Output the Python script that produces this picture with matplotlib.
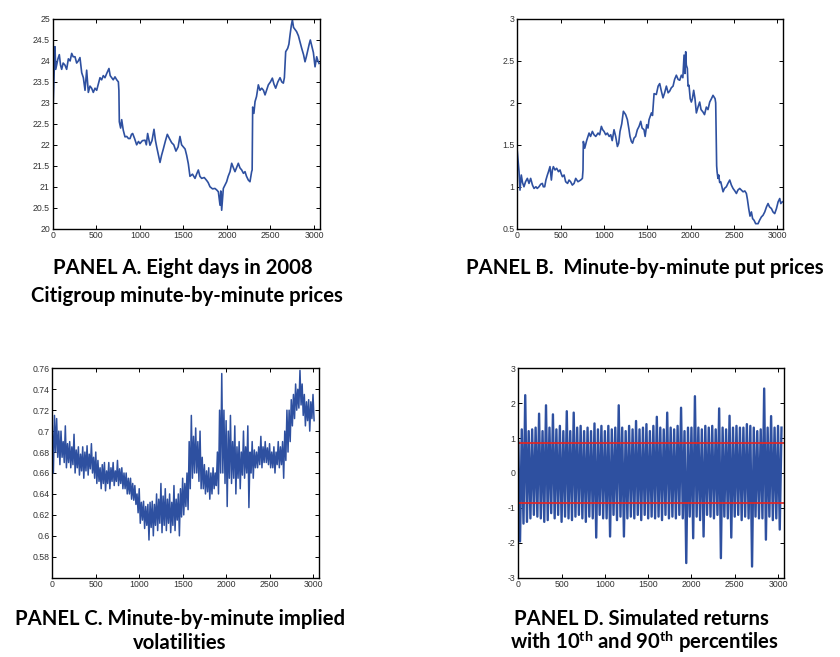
import numpy as np
import matplotlib
matplotlib.use("Agg")
import matplotlib.pyplot as plt

# ---------------- data ----------------
a_minute = [0, 5, 15, 26, 35, 45, 60, 76, 90, 103, 120, 141, 160, 180, 200, 218, 235, 256, 275, 294,
            313, 333, 352, 371, 390, 409, 428, 447, 466, 486, 505, 524, 543, 562, 581, 600, 620, 646, 660, 677,
            695, 715, 735, 754, 760, 765, 780, 792, 810, 830, 850, 870, 888, 905, 918, 940, 964, 985, 1002, 1030,
            1060, 1075, 1090, 1117, 1140, 1163, 1180, 1194, 1215, 1232, 1250, 1270, 1295, 1316, 1340, 1366, 1390, 1415, 1440, 1461,
            1480, 1500, 1520, 1538, 1557, 1576, 1605, 1634, 1652, 1672, 1690, 1710, 1740, 1768, 1785, 1806, 1835, 1863, 1885, 1902,
            1921, 1930, 1940, 1959, 1980, 1997, 2015, 2036, 2055, 2075, 2093, 2110, 2131, 2150, 2170, 2190, 2208, 2225, 2246, 2265,
            2284, 2290, 2296, 2310, 2323, 2340, 2361, 2380, 2400, 2420, 2438, 2455, 2476, 2500, 2522, 2540, 2560, 2585, 2610, 2630,
            2648, 2660, 2675, 2698, 2712, 2725, 2740, 2752, 2765, 2782, 2800, 2821, 2840, 2859, 2880, 2897, 2912, 2928, 2945, 2958,
            2975, 2993, 3012, 3031, 3045, 3058]
a_price = [23.3, 22.95, 23.6, 24.34, 23.8, 23.9, 24.05, 24.15, 23.9, 23.8, 23.95, 23.9, 23.8, 24.05, 24.0, 24.18, 24.1, 24.1, 23.95, 24.0,
           24.08, 23.72, 23.6, 23.3, 23.78, 23.25, 23.4, 23.35, 23.25, 23.35, 23.3, 23.45, 23.6, 23.55, 23.65, 23.6, 23.7, 23.82, 23.65, 23.6,
           23.55, 23.62, 23.55, 23.5, 23.3, 22.55, 22.4, 22.6, 22.35, 22.19, 22.2, 22.15, 22.15, 22.25, 22.27, 22.15, 22.0, 22.08, 22.03, 22.1,
           22.11, 22.0, 22.27, 21.99, 22.1, 22.37, 22.1, 21.95, 21.75, 21.58, 21.75, 21.9, 22.1, 22.25, 22.15, 22.05, 22.0, 21.85, 21.95, 22.2,
           22.0, 21.95, 21.9, 21.75, 21.55, 21.25, 21.3, 21.2, 21.3, 21.4, 21.25, 21.2, 21.22, 21.15, 21.1, 21.0, 20.95, 20.96, 20.92, 20.88,
           20.56, 20.9, 20.44, 20.96, 21.05, 21.12, 21.25, 21.36, 21.56, 21.45, 21.36, 21.45, 21.56, 21.45, 21.4, 21.32, 21.36, 21.25, 21.16, 21.12,
           21.36, 21.4, 22.9, 22.75, 23.03, 23.15, 23.43, 23.3, 23.35, 23.3, 23.19, 23.3, 23.43, 23.5, 23.59, 23.45, 23.35, 23.5, 23.6, 23.5,
           23.47, 23.6, 24.22, 24.3, 24.4, 24.62, 24.85, 24.98, 24.8, 24.75, 24.7, 24.6, 24.45, 24.3, 24.15, 23.98, 24.1, 24.25, 24.4, 24.5,
           24.35, 24.2, 23.86, 24.1, 24.0, 23.94]

b_minute = [0, 10, 20, 31, 46, 60, 77, 95, 116, 135, 154, 175, 193, 215, 230, 250, 270, 289, 300, 316,
            330, 347, 360, 377, 393, 405, 416, 435, 454, 475, 493, 505, 520, 540, 558, 580, 597, 615, 635, 655,
            674, 700, 731, 751, 758, 762, 778, 800, 828, 845, 866, 885, 905, 932, 950, 970, 985, 1001, 1020, 1039,
            1060, 1078, 1095, 1116, 1135, 1155, 1170, 1185, 1205, 1224, 1250, 1270, 1289, 1300, 1316, 1330, 1347, 1365, 1385, 1405,
            1424, 1440, 1462, 1475, 1493, 1508, 1520, 1547, 1560, 1578, 1604, 1625, 1643, 1660, 1681, 1700, 1720, 1740, 1758, 1777,
            1797, 1815, 1835, 1855, 1874, 1893, 1910, 1924, 1935, 1943, 1950, 1962, 1970, 1981, 1995, 2008, 2020, 2035, 2050, 2066,
            2085, 2104, 2120, 2143, 2160, 2181, 2200, 2220, 2240, 2258, 2270, 2282, 2289, 2295, 2300, 2305, 2315, 2324, 2335, 2347,
            2360, 2374, 2390, 2412, 2430, 2451, 2470, 2489, 2510, 2528, 2545, 2566, 2585, 2605, 2625, 2643, 2655, 2670, 2685, 2701,
            2715, 2732, 2750, 2778, 2795, 2816, 2835, 2855, 2875, 2893, 2910, 2932, 2950, 2970, 2990, 3009, 3028, 3040, 3058]
b_put = [1.42, 1.3, 1.18, 0.96, 1.14, 1.05, 1.0, 1.06, 1.10, 1.04, 1.10, 1.02, 0.98, 1.0, 0.98, 1.0, 1.03, 1.04, 1.0, 1.0,
         1.08, 1.14, 1.18, 1.24, 1.08, 1.2, 1.24, 1.2, 1.22, 1.18, 1.2, 1.16, 1.12, 1.14, 1.06, 1.04, 1.08, 1.06, 1.02, 1.04,
         1.10, 1.06, 1.08, 1.10, 1.2, 1.54, 1.46, 1.55, 1.64, 1.6, 1.66, 1.62, 1.6, 1.64, 1.62, 1.72, 1.68, 1.66, 1.62, 1.64,
         1.6, 1.62, 1.55, 1.68, 1.6, 1.48, 1.52, 1.66, 1.75, 1.9, 1.86, 1.8, 1.68, 1.6, 1.54, 1.52, 1.58, 1.6, 1.68, 1.72,
         1.78, 1.7, 1.68, 1.6, 1.74, 1.7, 1.8, 1.88, 1.85, 2.11, 2.1, 2.2, 2.23, 2.15, 2.06, 2.12, 2.2, 2.12, 2.14, 2.18,
         2.2, 2.28, 2.33, 2.28, 2.27, 2.33, 2.3, 2.57, 2.35, 2.61, 2.45, 2.41, 2.2, 2.21, 2.05, 2.01, 2.05, 2.15, 2.05, 1.88,
         1.95, 2.01, 1.92, 1.89, 1.86, 1.95, 1.92, 2.01, 2.05, 2.09, 2.07, 2.05, 2.0, 1.6, 1.25, 1.18, 1.1, 1.14, 1.05, 1.06,
         1.0, 0.94, 0.98, 1.0, 1.04, 1.08, 1.02, 0.98, 0.95, 0.92, 0.96, 0.98, 0.96, 0.94, 0.95, 0.92, 0.85, 0.74, 0.65, 0.7,
         0.62, 0.6, 0.56, 0.56, 0.6, 0.64, 0.66, 0.7, 0.76, 0.8, 0.76, 0.74, 0.7, 0.68, 0.74, 0.82, 0.86, 0.8, 0.82]

c_minute = np.arange(0, 3001, 25)
c_high = [0.705, 0.715, 0.712, 0.70, 0.70, 0.69, 0.705, 0.688, 0.69, 0.685,
          0.697, 0.682, 0.685, 0.678, 0.685, 0.68, 0.686, 0.678, 0.688, 0.675,
          0.68, 0.672, 0.665, 0.668, 0.67, 0.662, 0.67, 0.665, 0.67, 0.662,
          0.672, 0.664, 0.665, 0.66, 0.66, 0.655, 0.655, 0.65, 0.648, 0.64,
          0.645, 0.632, 0.633, 0.628, 0.63, 0.632, 0.633, 0.63, 0.64, 0.635,
          0.65, 0.638, 0.645, 0.635, 0.64, 0.632, 0.648, 0.635, 0.64, 0.645,
          0.655, 0.65, 0.66, 0.69, 0.715, 0.695, 0.703, 0.69, 0.70, 0.675,
          0.668, 0.662, 0.665, 0.66, 0.665, 0.66, 0.68, 0.72, 0.755, 0.72,
          0.71, 0.70, 0.715, 0.69, 0.705, 0.685, 0.69, 0.68, 0.70, 0.685,
          0.705, 0.68, 0.69, 0.682, 0.68, 0.685, 0.695, 0.685, 0.69, 0.684,
          0.688, 0.68, 0.685, 0.68, 0.69, 0.685, 0.69, 0.70, 0.72, 0.72,
          0.73, 0.735, 0.745, 0.74, 0.758, 0.745, 0.735, 0.728, 0.73, 0.728,
          0.735]
c_low = [0.66, 0.68, 0.675, 0.668, 0.675, 0.67, 0.665, 0.67, 0.665, 0.668,
         0.66, 0.665, 0.658, 0.662, 0.655, 0.662, 0.658, 0.664, 0.66, 0.655,
         0.65, 0.652, 0.645, 0.65, 0.643, 0.65, 0.645, 0.652, 0.648, 0.652,
         0.648, 0.65, 0.645, 0.645, 0.64, 0.64, 0.635, 0.634, 0.63, 0.622,
         0.612, 0.615, 0.607, 0.61, 0.596, 0.608, 0.60, 0.61, 0.605, 0.612,
         0.603, 0.61, 0.605, 0.612, 0.603, 0.61, 0.605, 0.615, 0.60, 0.618,
         0.62, 0.628, 0.625, 0.645, 0.655, 0.66, 0.66, 0.652, 0.645, 0.645,
         0.64, 0.642, 0.635, 0.64, 0.645, 0.648, 0.64, 0.66, 0.66, 0.65,
         0.628, 0.655, 0.65, 0.655, 0.64, 0.655, 0.645, 0.658, 0.655, 0.66,
         0.627, 0.66, 0.655, 0.665, 0.665, 0.668, 0.665, 0.67, 0.67, 0.668,
         0.665, 0.665, 0.66, 0.668, 0.665, 0.668, 0.655, 0.672, 0.68, 0.69,
         0.705, 0.712, 0.72, 0.722, 0.725, 0.715, 0.705, 0.71, 0.70, 0.712,
         0.71]

d_minute = np.arange(0, 3041, 20)
d_return = [0.9, -1.96, 1.25, -1.45, 2.23, -1.4, 1.2, -1.3, 1.25, -1.2,
            1.3, -1.25, 1.7, -1.3, 1.2, -1.4, 1.94, -1.35, 1.3, -1.15,
            1.68, -1.3, 1.25, -1.2, 1.35, -1.4, 1.2, -1.25, 1.77, -1.3,
            1.2, -1.35, 1.73, -1.25, 1.3, -1.2, 1.35, -1.3, 1.2, -1.4,
            1.3, -1.25, 1.2, -1.3, 1.42, -1.85, 1.25, -1.2, 1.35, -1.3,
            1.2, -1.3, 1.35, -1.82, 1.25, -1.2, 1.3, -1.35, 1.94, -1.25,
            1.3, -1.82, 1.2, -1.3, 1.35, -1.25, 1.25, -1.3, 1.49, -1.2,
            1.25, -1.35, 1.3, -1.2, 1.4, -1.3, 1.2, -1.25, 1.35, -1.3,
            1.61, -1.25, 1.3, -1.35, 1.25, -1.2, 1.73, -1.3, 1.3, -1.25,
            1.25, -1.3, 1.35, -1.2, 1.87, -1.3, 1.2, -2.58, 1.3, -1.25,
            1.3, -1.87, 2.2, -1.25, 1.3, -1.35, 1.25, -1.82, 1.35, -1.2,
            1.3, -1.25, 1.35, -1.3, 1.25, -1.2, 1.85, -2.44, 1.3, -1.25,
            1.25, -1.3, 1.64, -1.85, 1.3, -1.25, 1.35, -1.2, 1.3, -1.35,
            1.3, -1.25, 1.4, -1.3, 1.35, -2.68, 1.3, -1.25, 1.2, -1.3,
            1.25, -1.3, 2.42, -1.91, 1.3, -1.25, 1.63, -1.35, 1.3, -1.3,
            1.35, -1.62, 1.3]
d_percentiles = [-0.85, 0.85]

x_ticks = [0, 500, 1000, 1500, 2000, 2500, 3000]
a_yticks = [20, 20.5, 21, 21.5, 22, 22.5, 23, 23.5, 24, 24.5, 25]
b_yticks = [0.5, 1, 1.5, 2, 2.5, 3]
c_yticks = [0.58, 0.6, 0.62, 0.64, 0.66, 0.68, 0.7, 0.72, 0.74, 0.76]
d_yticks = [-3, -2, -1, 0, 1, 2, 3]

titles = {
    "A": ["PANEL A. Eight days in 2008", "Citigroup minute-by-minute prices"],
    "B": ["PANEL B.  Minute-by-minute put prices"],
    "C": ["PANEL C. Minute-by-minute implied", "volatilities"],
    "D": ["PANEL D. Simulated returns",
          r"with 10$^{\mathbf{th}}$ and 90$^{\mathbf{th}}$ percentiles"],
}

# ---------------- drawing ----------------
plt.rcParams["mathtext.fontset"] = "custom"
plt.rcParams["mathtext.rm"] = "Lato:bold"
plt.rcParams["mathtext.bf"] = "Lato:bold"

BLUE = "#2E50A0"
W, H = 840, 657
fig = plt.figure(figsize=(W / 100, H / 100), dpi=100)


def box(l, t, r, b):
    return [l / W, 1 - b / H, (r - l) / W, (b - t) / H]


def style(ax, yticks, ylim):
    ax.set_xlim(0, 3069)
    ax.set_ylim(*ylim)
    ax.set_xticks(x_ticks)
    ax.set_yticks(yticks)
    ax.set_yticklabels([("%g" % v) for v in yticks])
    ax.tick_params(direction="in", top=True, right=True, length=3, width=0.7,
                   labelsize=6.3, pad=2, labelcolor="#333333")
    for lab in ax.get_xticklabels() + ax.get_yticklabels():
        lab.set_family("Liberation Sans")
    for s in ax.spines.values():
        s.set_linewidth(1.0)


axA = fig.add_axes(box(52.7, 19, 320, 228.7))
axA.plot(a_minute, a_price, color=BLUE, lw=1.2)
style(axA, a_yticks, (20, 25))

axB = fig.add_axes(box(517.3, 19, 783.3, 228.7))
axB.plot(b_minute, b_put, color=BLUE, lw=1.2)
style(axB, b_yticks, (0.5, 3))

axC = fig.add_axes(box(52.3, 368.3, 319, 577.7))
c_t = np.column_stack([c_minute, c_minute + 12.5]).ravel()
c_v = np.column_stack([c_high, c_low]).ravel()
axC.plot(c_t, c_v, color=BLUE, lw=1.1)
style(axC, c_yticks, (0.56, 0.76))

axD = fig.add_axes(box(518.3, 368.3, 784, 577.7))
axD.plot(d_minute, d_return, color=BLUE, lw=1.7)
for p in d_percentiles:
    axD.axhline(p, color="#E8231E", lw=1.2)
style(axD, d_yticks, (-3, 3))

tkw = dict(family="Lato", weight="bold", fontsize=14.6, ha="center", va="center", color="black")
fig.text(183 / W, 1 - 268 / H, titles["A"][0], **tkw)
fig.text(187 / W, 1 - 296 / H, titles["A"][1], **tkw)
fig.text(645 / W, 1 - 268 / H, titles["B"][0], **tkw)
fig.text(180 / W, 1 - 619 / H, titles["C"][0], **tkw)
fig.text(180 / W, 1 - 643 / H, titles["C"][1], **tkw)
fig.text(641 / W, 1 - 619 / H, titles["D"][0], **tkw)
fig.text(644 / W, 1 - 642 / H, titles["D"][1], **tkw)

fig.savefig("out.png", dpi=100)
